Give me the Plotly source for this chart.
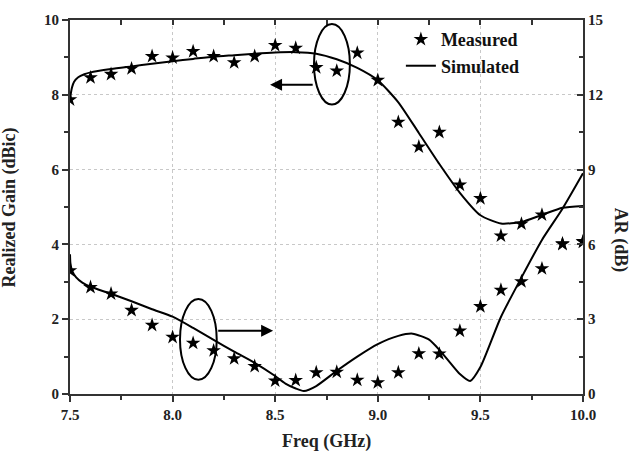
import plotly.graph_objects as go

# ---- data ----
freq_meas = [7.5, 7.6, 7.7, 7.8, 7.9, 8.0, 8.1, 8.2, 8.3, 8.4, 8.5, 8.6, 8.7,
             8.8, 8.9, 9.0, 9.1, 9.2, 9.3, 9.4, 9.5, 9.6, 9.7, 9.8, 9.9, 10.0]
gain_meas = [7.87, 8.46, 8.55, 8.70, 9.03, 8.99, 9.16, 9.03, 8.86, 9.03, 9.32, 9.25, 8.73,
             8.64, 9.12, 8.39, 7.27, 6.61, 7.00, 5.59, 5.23, 4.23, 4.55, 4.79, 4.02, 4.08]
ar_meas = [4.95, 4.28, 4.02, 3.36, 2.76, 2.28, 2.04, 1.74, 1.42, 1.11, 0.53, 0.55, 0.86,
           0.88, 0.56, 0.46, 0.86, 1.62, 1.61, 2.53, 3.51, 4.17, 4.51, 5.03, 6.01, 6.10]

freq_sim_gain = [7.5, 7.503, 7.51, 7.52, 7.54, 7.57, 7.6, 7.7, 7.8, 7.9, 8.0, 8.1, 8.2, 8.3, 8.4,
                 8.5, 8.6, 8.7, 8.8, 8.9, 9.0, 9.1, 9.2, 9.3, 9.4, 9.5, 9.6, 9.7, 9.8, 9.9, 10.0]
gain_sim = [7.85, 8.0, 8.2, 8.35, 8.47, 8.55, 8.6, 8.69, 8.76, 8.83, 8.9, 8.96, 9.02, 9.06, 9.1,
            9.13, 9.14, 9.1, 8.95, 8.72, 8.39, 7.8, 6.98, 6.15, 5.38, 4.78, 4.56, 4.6, 4.79, 4.98, 5.03]

freq_sim_ar = [7.5, 7.502, 7.51, 7.53, 7.56, 7.6, 7.7, 7.8, 7.9, 8.0, 8.1, 8.2, 8.3, 8.4,
               8.5, 8.55, 8.6, 8.64, 8.7, 8.8, 8.9, 9.0, 9.1, 9.17, 9.25, 9.3, 9.35, 9.4,
               9.45, 9.5, 9.6, 9.7, 9.8, 9.9, 10.0]
ar_sim = [5.6, 5.25, 4.95, 4.68, 4.47, 4.3, 4.02, 3.72, 3.4, 3.1, 2.65, 2.17, 1.7, 1.25,
          0.72, 0.42, 0.22, 0.12, 0.32, 0.93, 1.5, 2.0, 2.33, 2.42, 2.18, 1.77, 1.28, 0.8,
          0.52, 1.08, 3.09, 4.67, 6.18, 7.43, 8.85]

x_ticks = [7.5, 8.0, 8.5, 9.0, 9.5, 10.0]
x_labels = ["7.5", "8.0", "8.5", "9.0", "9.5", "10.0"]
gain_ticks = [0, 2, 4, 6, 8, 10]
ar_ticks = [0, 3, 6, 9, 12, 15]

FONT = "Liberation Serif"
AXC = "#333333"

fig = go.Figure()
fig.add_trace(go.Scatter(x=freq_meas, y=gain_meas, mode="markers", name="<b>Measured</b>",
                         marker=dict(symbol="star", size=11, color="black"),
                         showlegend=True))
fig.add_trace(go.Scatter(x=freq_sim_gain, y=gain_sim, mode="lines", name="<b>Simulated</b>",
                         line=dict(color="black", width=2, shape="spline", smoothing=0.6),
                         showlegend=True))
fig.add_trace(go.Scatter(x=freq_meas, y=ar_meas, mode="markers", name="Measured AR",
                         marker=dict(symbol="star", size=11, color="black"),
                         yaxis="y2", showlegend=False))
fig.add_trace(go.Scatter(x=freq_sim_ar, y=ar_sim, mode="lines", name="Simulated AR",
                         line=dict(color="black", width=2, shape="spline", smoothing=0.6),
                         yaxis="y2", showlegend=False))

tickfont = dict(family=FONT, size=15, color="#222222")
grid = dict(showgrid=True, gridcolor="#c8c8c8", griddash="dot", gridwidth=1)

fig.update_layout(
    width=635, height=459,
    margin=dict(l=70, r=52, t=14, b=65),
    paper_bgcolor="white", plot_bgcolor="white",
    font=dict(family=FONT, color="#222222"),
    xaxis=dict(range=[7.5, 10.0], tickvals=x_ticks,
               ticktext=["<b>%s</b>" % t for t in x_labels],
               ticks="outside", ticklen=6, tickwidth=2, tickcolor=AXC,
               minor=dict(dtick=0.25, tick0=7.5, ticks="outside", ticklen=4, tickwidth=2,
                          tickcolor=AXC, showgrid=False),
               showline=True, linecolor=AXC, linewidth=2, zeroline=False,
               tickfont=tickfont, **grid),
    xaxis2=dict(range=[7.5, 10.0], overlaying="x", side="top", showticklabels=False,
                tickvals=[7.5, 7.75, 8.0, 8.25, 8.5, 8.75, 9.0, 9.25, 9.5, 9.75, 10.0],
                ticks="inside", ticklen=5, tickwidth=2, tickcolor=AXC,
                showline=True, linecolor=AXC, linewidth=2, showgrid=False, zeroline=False),
    yaxis=dict(range=[0, 10], tickvals=gain_ticks,
               ticktext=["<b>%d</b>" % t for t in gain_ticks],
               ticks="outside", ticklen=6, tickwidth=2, tickcolor=AXC,
               minor=dict(dtick=1, tick0=0, ticks="outside", ticklen=4, tickwidth=2,
                          tickcolor=AXC, showgrid=False),
               showline=True, linecolor=AXC, linewidth=2, zeroline=False,
               tickfont=tickfont, **grid),
    yaxis2=dict(range=[0, 15], overlaying="y", side="right",
                tickvals=ar_ticks, ticktext=["<b>%d</b>" % t for t in ar_ticks],
                ticks="inside", ticklen=6, tickwidth=2, tickcolor=AXC,
                minor=dict(dtick=1.5, tick0=0, ticks="inside", ticklen=4, tickwidth=2,
                           tickcolor=AXC, showgrid=False),
                showline=True, linecolor=AXC, linewidth=2, showgrid=False, zeroline=False,
                tickfont=tickfont),
    legend=dict(x=0.645, y=0.997, xanchor="left", yanchor="top",
                bgcolor="rgba(0,0,0,0)",
                font=dict(family=FONT, size=18, color="#111111"),
                tracegroupgap=0),
    showlegend=True,
)

# dummy trace to activate top axis
fig.add_trace(go.Scatter(x=[7.5], y=[0], xaxis="x2", mode="markers",
                         marker=dict(opacity=0), showlegend=False, hoverinfo="skip"))

# ellipses
fig.add_shape(type="circle", xref="x", yref="y", x0=8.689, x1=8.864, y0=7.74, y1=9.89,
              line=dict(color="black", width=2))
fig.add_shape(type="circle", xref="x", yref="y", x0=8.036, x1=8.215, y0=0.38, y1=2.54,
              line=dict(color="black", width=2))

# arrows
fig.add_annotation(x=8.475, y=8.27, ax=8.69, ay=8.27, xref="x", yref="y",
                   axref="x", ayref="y", text="", showarrow=True,
                   arrowhead=2, arrowsize=1.2, arrowwidth=2, arrowcolor="black")
fig.add_annotation(x=8.49, y=1.69, ax=8.215, ay=1.69, xref="x", yref="y",
                   axref="x", ayref="y", text="", showarrow=True,
                   arrowhead=2, arrowsize=1.2, arrowwidth=2, arrowcolor="black")

# axis titles
fig.add_annotation(text="<b>Freq (GHz)</b>", xref="paper", yref="paper", x=0.5, y=-0.128,
                   xanchor="center", yanchor="middle", showarrow=False,
                   font=dict(family=FONT, size=18, color="#222222"))
fig.add_annotation(text="<b>Realized Gain (dBic)</b>", xref="paper", yref="paper",
                   x=-0.118, y=0.5, xanchor="center", yanchor="middle", textangle=-90,
                   showarrow=False, font=dict(family=FONT, size=18, color="#222222"))
fig.add_annotation(text="<b>AR (dB)</b>", xref="paper", yref="paper",
                   x=1.072, y=0.41, xanchor="center", yanchor="middle", textangle=90,
                   showarrow=False, font=dict(family=FONT, size=18, color="#222222"))

fig.write_html("out.html")
